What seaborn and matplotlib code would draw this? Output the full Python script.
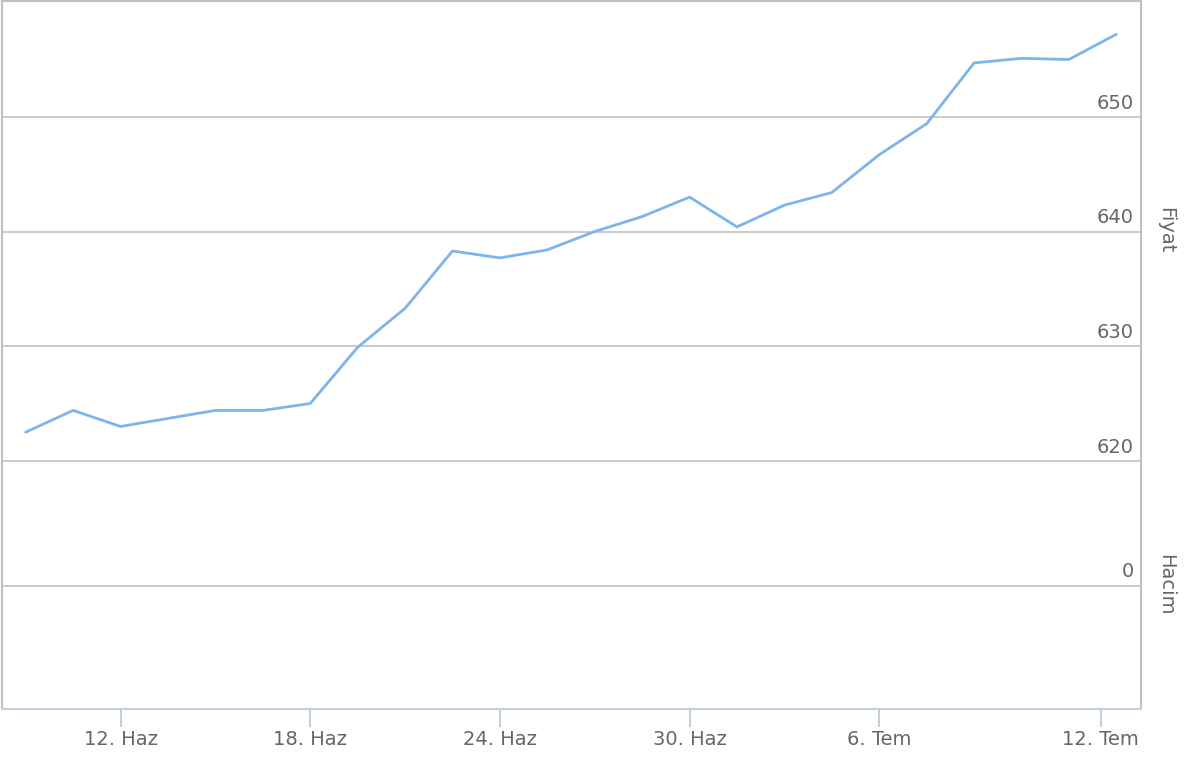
import matplotlib
matplotlib.use('Agg')
from matplotlib import pyplot as plt
import matplotlib.transforms as mtransforms
import seaborn as sns
import numpy as np
import pandas as pd

# fiyat serisi (işlem günleri, sıralı eksen)
gun = list(range(24))
fiyat = [622.5, 624.4, 623.0, 623.7, 624.4, 624.4, 625.0, 629.9, 633.3, 638.3,
         637.7, 638.4, 640.0, 641.3, 643.0, 640.4, 642.3, 643.4, 646.7, 649.4,
         654.7, 655.1, 655.0, 657.2]

# x ekseni etiketleri (sıralı eksen konumları)
tarih_konum = [2, 6, 10, 14, 18, 22.67]
tarih_etiket = ['12. Haz', '18. Haz', '24. Haz', '30. Haz', '6. Tem', '12. Tem']

fiyat_tick = [620, 630, 640, 650]
hacim_tick = [0]

df = pd.DataFrame({'gun': gun, 'fiyat': fiyat})

sns.set_style('white')
plt.rcParams['font.family'] = ['DejaVu Sans']

fig = plt.figure(figsize=(11.92, 7.68), dpi=100)
W, H = 1192, 768
left, right = 2 / W, 1141 / W
fiyatAx = fig.add_axes([left, 1 - 462 / H, right - left, (462 - 1) / H])
hacimAx = fig.add_axes([left, 1 - 709 / H, right - left, (709 - 462) / H], sharex=fiyatAx)

gridRenk = '#c6c6c6'
yaziRenk = '#666666'
fs = 14

sns.lineplot(data=df, x='gun', y='fiyat', ax=fiyatAx, color='#7cb5ec', linewidth=2.0)
fiyatAx.set_xlim(-0.5, 23.52)
fiyatAx.set_ylim(619.9, 660.1)
hacimAx.set_ylim(-1, 1)

for ax in (fiyatAx, hacimAx):
    ax.set_xlabel('')
    ax.set_ylabel('')
    ax.set_yticks([])
    for s in ax.spines.values():
        s.set_visible(False)

for v in fiyat_tick:
    fiyatAx.axhline(v, color=gridRenk, linewidth=1.3, zorder=0)
for v in hacim_tick:
    hacimAx.axhline(v, color=gridRenk, linewidth=1.3, zorder=0)

# y etiketleri çizim alanının içinde, sağda
tr = mtransforms.blended_transform_factory(fiyatAx.transAxes, fiyatAx.transData)
for v in fiyat_tick:
    fiyatAx.text(0.9935, v + 0.35, str(v), transform=tr, ha='right', va='bottom',
                 fontsize=fs, color=yaziRenk)
tr2 = mtransforms.blended_transform_factory(hacimAx.transAxes, hacimAx.transData)
for v in hacim_tick:
    hacimAx.text(0.9935, v + 0.035, str(v), transform=tr2, ha='right', va='bottom',
                 fontsize=fs, color=yaziRenk)

# eksen başlıkları
fig.text(1166 / W, 1 - 230 / H, 'Fiyat', rotation=270, ha='center', va='center',
         fontsize=fs, color=yaziRenk)
fig.text(1166 / W, 1 - 585 / H, 'Hacim', rotation=270, ha='center', va='center',
         fontsize=fs, color=yaziRenk)

# çerçeve
fiyatAx.spines['top'].set_visible(True)
fiyatAx.spines['left'].set_visible(True)
fiyatAx.spines['right'].set_visible(True)
hacimAx.spines['left'].set_visible(True)
hacimAx.spines['right'].set_visible(True)
hacimAx.spines['bottom'].set_visible(True)
for ax in (fiyatAx, hacimAx):
    for k in ('top', 'left', 'right'):
        ax.spines[k].set_color('#c0c0c0')
        ax.spines[k].set_linewidth(1.5)
hacimAx.spines['bottom'].set_color('#c0d0e0')
hacimAx.spines['bottom'].set_linewidth(1.5)

fiyatAx.tick_params(axis='x', bottom=False, labelbottom=False)
hacimAx.set_xticks(tarih_konum)
hacimAx.set_xticklabels(tarih_etiket)
hacimAx.tick_params(axis='x', bottom=True, length=13, width=1.5, color='#c0d0e0',
                    labelsize=fs, labelcolor=yaziRenk, pad=2)

plt.savefig('out.png', dpi=100)
plt.close()
